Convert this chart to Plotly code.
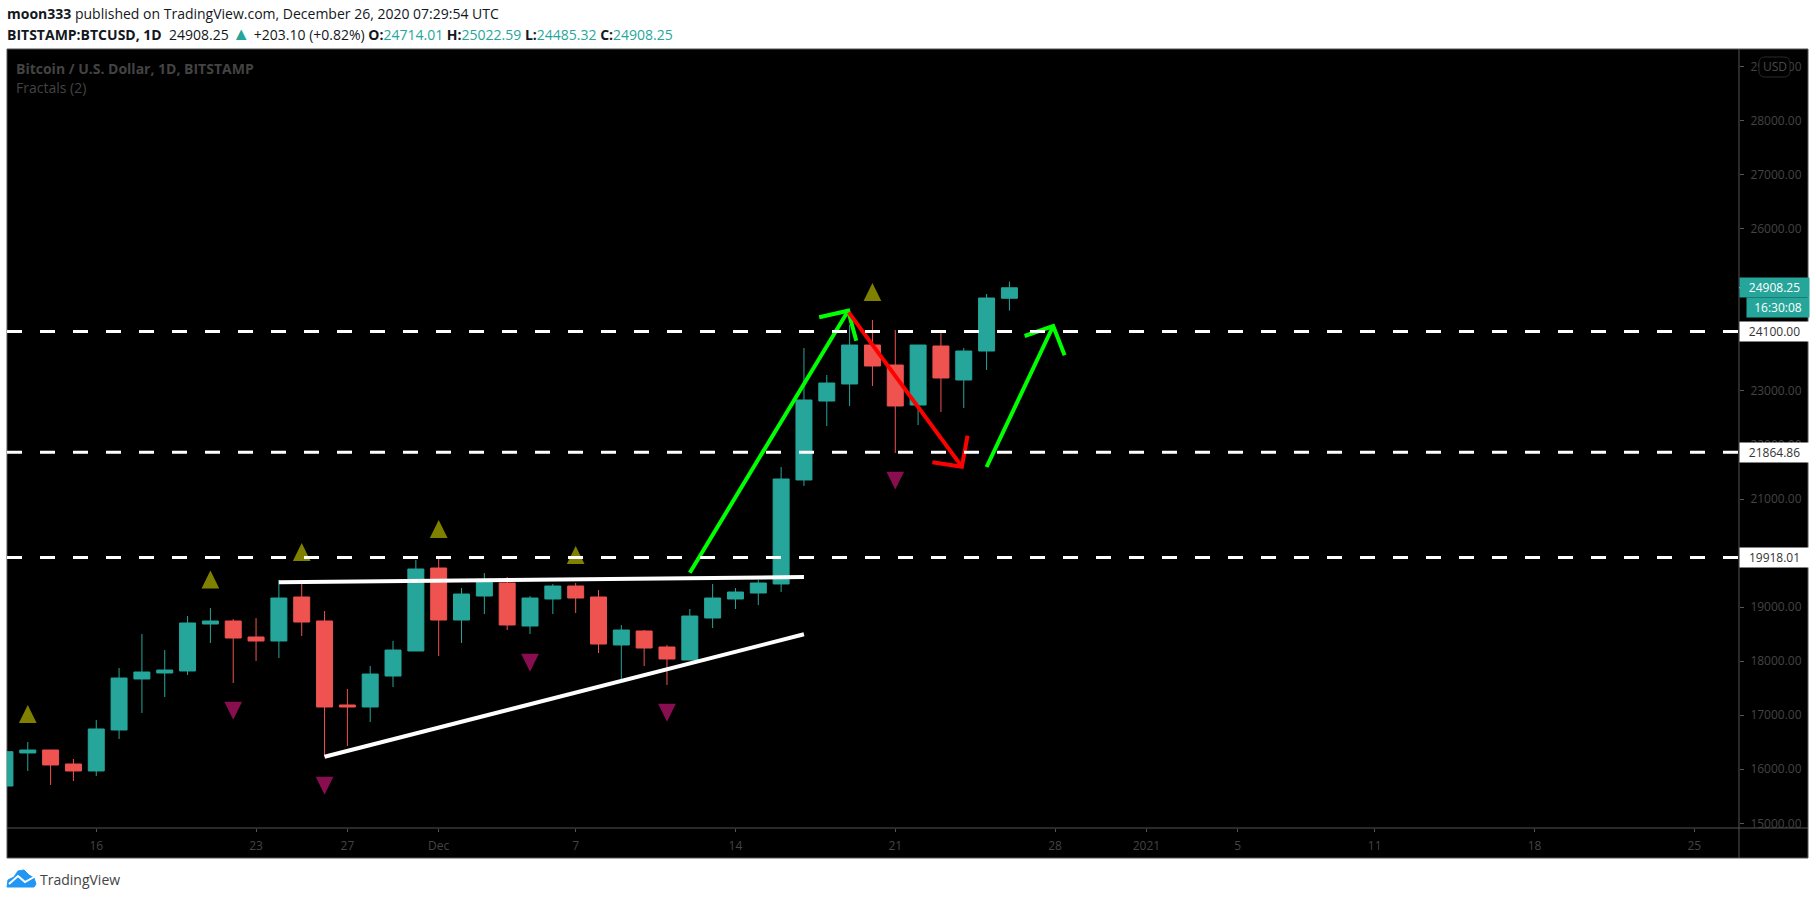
import plotly.graph_objects as go
import pandas as pd

W = 1816
H = 900

# daily candles
dates = pd.date_range("2020-11-12", "2020-12-26", freq="D")
opens = [15690, 16301, 16356, 16097, 15968, 16726, 17670, 17781, 17818, 18687, 18743, 18447, 18373, 19187, 18743,
         17189, 17152, 17725, 18188, 19723, 18761, 19205, 19446, 18650, 19150, 19390, 19187, 18299, 18558, 18262,
         18021, 18798, 19150, 19261, 19428, 21352, 22813, 23128, 23849, 23479, 22739, 23831, 23202, 23738, 24714.01]
highs = [16325, 16504, 16356, 16190, 16911, 17873, 18502, 18206, 18835, 18983, 18780, 18798, 19501, 19501, 18928,
         17485, 17910, 18373, 19871, 19890, 19353, 19631, 19557, 19205, 19427, 19446, 19316, 18669, 18576, 18299,
         18965, 19427, 19353, 19501, 21592, 23794, 23294, 24219, 24312, 24127, 23849, 24071, 23794, 24793, 25022.59]
lows = [15690, 15968, 15709, 15783, 15875, 16560, 17041, 17337, 17744, 18336, 17596, 18003, 18058, 18465, 16233,
        16430, 16874, 17522, 18188, 18095, 18336, 18872, 18576, 18502, 18872, 18891, 18151, 17670, 17910, 17559,
        18021, 18613, 18965, 19039, 19280, 21241, 22351, 22721, 23091, 21851, 22369, 22610, 22684, 23387, 24485.32]
closes = [16325, 16356, 16079, 15968, 16745, 17688, 17799, 17836, 18706, 18743, 18428, 18373, 19168, 18724, 17152,
          17152, 17762, 18206, 19705, 18761, 19242, 19471, 18669, 19168, 19390, 19168, 18317, 18576, 18243, 18040,
          18835, 19168, 19279, 19446, 21370, 22832, 23146, 23849, 23461, 22721, 23849, 23239, 23738, 24719, 24908.25]

# fractals
up_dates = ["2020-11-13", "2020-11-21", "2020-11-25", "2020-12-01", "2020-12-07", "2020-12-20"]
up_prices = [17022, 19511, 20019, 20445, 19964, 24830]
down_dates = ["2020-11-22", "2020-11-26", "2020-12-05", "2020-12-11", "2020-12-21"]
down_prices = [17084, 15696, 17972, 17047, 21340]

# horizontal levels
levels = [24100.00, 21864.86, 19918.01]
level_labels = ["24100.00", "21864.86", "19918.01"]
last_price = 24908.25

# drawn trend lines
top_line_x = ["2020-11-24", "2020-12-17"]
top_line_y = [19459, 19557]
low_line_x = ["2020-11-26", "2020-12-17"]
low_line_y = [16232, 18497]

# drawn arrows: shaft start, tip, wing, wing
arrow_up1_x = ["2020-12-12 00:00", "2020-12-18 22:30", "2020-12-17 16:00", "2020-12-19 07:00"]
arrow_up1_y = [19636, 24484, 24362, 23929]
arrow_down_x = ["2020-12-18 23:00", "2020-12-23 22:00", "2020-12-22 15:00", "2020-12-24 04:00"]
arrow_down_y = [24454, 21598, 21679, 22171]
arrow_up2_x = ["2020-12-25 00:00", "2020-12-27 22:00", "2020-12-26 16:00", "2020-12-28 10:00"]
arrow_up2_y = [21592, 24201, 24016, 23659]

# axes
x_tick_dates = ["2020-11-16", "2020-11-23", "2020-11-27", "2020-12-01", "2020-12-07", "2020-12-14", "2020-12-21",
                "2020-12-28", "2021-01-01", "2021-01-05", "2021-01-11", "2021-01-18", "2021-01-25"]
x_tick_labels = ["16", "23", "27", "Dec", "7", "14", "21", "28", "2021", "5", "11", "18", "25"]
y_ticks = list(range(15000, 30000, 1000))

TEAL = "#26a69a"
RED = "#ef5350"
AXIS = "#555555"
FONT = "Open Sans"


def px(x):
    return x / W


def py(y):
    return 1 - y / H


# triangle polygons round each fractal, half sizes in days and dollars
def triangles(days, prices, direction):
    xs, ys = [], []
    half_w = pd.Timedelta(hours=9.3)
    half_h = 166
    for d, p in zip(days, prices):
        t = pd.Timestamp(d)
        xs += [t - half_w, t + half_w, t, t - half_w, None]
        ys += [p - direction * half_h, p - direction * half_h, p + direction * half_h, p - direction * half_h, None]
    return xs, ys


def arrow(xs, ys):
    return ([xs[0], xs[1], None, xs[2], xs[1], xs[3]],
            [ys[0], ys[1], None, ys[2], ys[1], ys[3]])


fig = go.Figure()

fig.add_trace(go.Candlestick(x=dates, open=opens, high=highs, low=lows, close=closes,
                             whiskerwidth=0, hoverinfo="skip",
                             increasing=dict(line=dict(color=TEAL, width=1), fillcolor=TEAL),
                             decreasing=dict(line=dict(color=RED, width=1), fillcolor=RED)))

tx, ty = triangles(up_dates, up_prices, 1)
fig.add_trace(go.Scatter(x=tx, y=ty, mode="lines", fill="toself", fillcolor="#808000", line=dict(width=0)))
tx, ty = triangles(down_dates, down_prices, -1)
fig.add_trace(go.Scatter(x=tx, y=ty, mode="lines", fill="toself", fillcolor="#880e4f", line=dict(width=0)))

fig.add_trace(go.Scatter(x=top_line_x, y=top_line_y, mode="lines", line=dict(color="white", width=4)))
fig.add_trace(go.Scatter(x=low_line_x, y=low_line_y, mode="lines", line=dict(color="white", width=4)))

ax, ay = arrow(arrow_up1_x, arrow_up1_y)
fig.add_trace(go.Scatter(x=ax, y=ay, mode="lines", line=dict(color="#00ff00", width=4)))
ax, ay = arrow(arrow_down_x, arrow_down_y)
fig.add_trace(go.Scatter(x=ax, y=ay, mode="lines", line=dict(color="#ff0000", width=4)))
ax, ay = arrow(arrow_up2_x, arrow_up2_y)
fig.add_trace(go.Scatter(x=ax, y=ay, mode="lines", line=dict(color="#00ff00", width=4)))

shapes = [
    # chart frame and panel lines
    dict(type="rect", xref="paper", yref="paper", x0=px(7), x1=px(1808), y0=py(858), y1=py(49),
         fillcolor="black", line=dict(color=AXIS, width=1), layer="below"),
    dict(type="line", xref="paper", yref="paper", x0=px(7), x1=px(1808), y0=py(828), y1=py(828),
         line=dict(color=AXIS, width=1), layer="below"),
    dict(type="line", xref="paper", yref="paper", x0=px(1739), x1=px(1739), y0=py(858), y1=py(49),
         line=dict(color=AXIS, width=1), layer="below"),
]
for lev in levels:
    shapes.append(dict(type="line", xref="x domain", yref="y", x0=0, x1=1, y0=lev, y1=lev,
                       line=dict(color="white", width=3, dash="15px,18px")))


def pill(x0, x1, y0, y1, r):
    return ("M%f,%f L%f,%f Q%f,%f %f,%f L%f,%f Q%f,%f %f,%f L%f,%f Q%f,%f %f,%f L%f,%f Q%f,%f %f,%f Z" % (
        px(x0 + r), py(y0), px(x1 - r), py(y0), px(x1), py(y0), px(x1), py(y0 + r),
        px(x1), py(y1 - r), px(x1), py(y1), px(x1 - r), py(y1),
        px(x0 + r), py(y1), px(x0), py(y1), px(x0), py(y1 - r),
        px(x0), py(y0 + r), px(x0), py(y0), px(x0 + r), py(y0)))


# USD pill over the top tick
shapes.append(dict(type="path", xref="paper", yref="paper", path=pill(1759, 1790, 57, 77, 6),
                   fillcolor="black", line=dict(color="#2a2a2a", width=1)))

# logo, cloud with a white zigzag
cloud = [(7, 887), (8, 880), (14, 877), (18, 871), (24, 870), (29, 875), (34, 878), (36, 884), (34, 887)]
shapes.append(dict(type="path", xref="paper", yref="paper",
                   path="M" + " L".join("%f,%f" % (px(a), py(b)) for a, b in cloud) + " Z",
                   fillcolor="#2196f3", line=dict(color="#2196f3", width=1)))
zig = [(9, 884), (18, 876), (25, 882), (34, 877)]
shapes.append(dict(type="path", xref="paper", yref="paper",
                   path="M" + " L".join("%f,%f" % (px(a), py(b)) for a, b in zig),
                   line=dict(color="white", width=2)))

annotations = [
    dict(x=px(5), y=py(14), xref="paper", yref="paper", xanchor="left", yanchor="middle", showarrow=False,
         text="<b>moon333</b> published on TradingView.com, December 26, 2020 07:29:54 UTC",
         font=dict(family=FONT, size=14, color="#131722")),
    dict(x=px(5), y=py(33), xref="paper", yref="paper", xanchor="left", yanchor="middle", showarrow=False,
         text="<b>BITSTAMP:BTCUSD, 1D</b>  24908.25 <span style='color:#26a69a;font-size:18px'>▲</span> +203.10 (+0.82%) "
              "<b>O:</b><span style='color:#26a69a'>24714.01</span> <b>H:</b><span style='color:#26a69a'>25022.59</span> "
              "<b>L:</b><span style='color:#26a69a'>24485.32</span> <b>C:</b><span style='color:#26a69a'>24908.25</span>",
         font=dict(family=FONT, size=14, color="#131722")),
    dict(x=px(14), y=py(68), xref="paper", yref="paper", xanchor="left", yanchor="middle", showarrow=False,
         text="<b>Bitcoin / U.S. Dollar, 1D, BITSTAMP</b>", font=dict(family=FONT, size=14, color="#434343")),
    dict(x=px(14), y=py(87), xref="paper", yref="paper", xanchor="left", yanchor="middle", showarrow=False,
         text="Fractals (2)", font=dict(family=FONT, size=14, color="#434343")),
    dict(x=px(1774.5), y=py(67), xref="paper", yref="paper", xanchor="center", yanchor="middle", showarrow=False,
         text="USD", font=dict(family=FONT, size=12, color="#4a4a4a")),
    dict(x=px(38), y=py(879), xref="paper", yref="paper", xanchor="left", yanchor="middle", showarrow=False,
         text="TradingView", font=dict(family=FONT, size=14, color="#444444")),
]

# price labels on the axis
for lev, lab in zip(levels, level_labels):
    annotations.append(dict(x=px(1739), y=lev, xref="paper", yref="y", xanchor="left", yanchor="middle",
                            showarrow=False, text=lab, width=69, height=19, bgcolor="white", borderpad=0,
                            font=dict(family=FONT, size=12, color="#333333")))
    shapes.append(dict(type="line", xref="paper", yref="y", x0=px(1739), x1=px(1743), y0=lev, y1=lev,
                       line=dict(color="#333333", width=1)))
annotations.append(dict(x=px(1739), y=last_price, xref="paper", yref="y", xanchor="left", yanchor="middle",
                        showarrow=False, text="24908.25", width=69, height=19, bgcolor=TEAL, borderpad=0,
                        font=dict(family=FONT, size=12, color="white")))
shapes.append(dict(type="line", xref="paper", yref="y", x0=px(1739), x1=px(1743), y0=last_price, y1=last_price,
                   line=dict(color="white", width=1)))
annotations.append(dict(x=px(1746), y=py(307.2), xref="paper", yref="paper", xanchor="left", yanchor="middle",
                        showarrow=False, text="16:30:08", width=62, height=19, bgcolor=TEAL, borderpad=0,
                        font=dict(family=FONT, size=12, color="white")))

fig.update_layout(
    width=W,
    height=H,
    margin=dict(l=0, r=0, t=0, b=0, pad=0, autoexpand=False),
    paper_bgcolor="white",
    plot_bgcolor="black",
    showlegend=False,
    boxmode="overlay",
    boxgap=0.3,
    boxgroupgap=0,
    shapes=shapes,
    annotations=annotations,
    xaxis=dict(
        domain=[px(7), px(1739)],
        type="date",
        automargin=False,
        range=["2020-11-12 02:10", "2021-01-26 23:00"],
        rangeslider=dict(visible=False),
        showgrid=False,
        zeroline=False,
        tickmode="array",
        tickvals=x_tick_dates,
        ticktext=x_tick_labels,
        ticks="outside",
        ticklen=3,
        tickcolor=AXIS,
        ticklabelstandoff=4,
        tickfont=dict(family=FONT, size=12, color="#444444"),
    ),
    yaxis=dict(
        domain=[py(828), py(49)],
        side="right",
        automargin=False,
        range=[14913, 29326],
        showgrid=False,
        zeroline=False,
        tickmode="array",
        tickvals=y_ticks,
        ticktext=["%d.00" % t for t in y_ticks],
        ticks="outside",
        ticklen=4,
        tickcolor=AXIS,
        ticklabelstandoff=4,
        tickfont=dict(family=FONT, size=12, color="#444444"),
    ),
)

page = "document.body.style.margin='0';document.body.style.overflow='hidden';"
fig.write_html("out.html", config=dict(displayModeBar=False), post_script=page)
